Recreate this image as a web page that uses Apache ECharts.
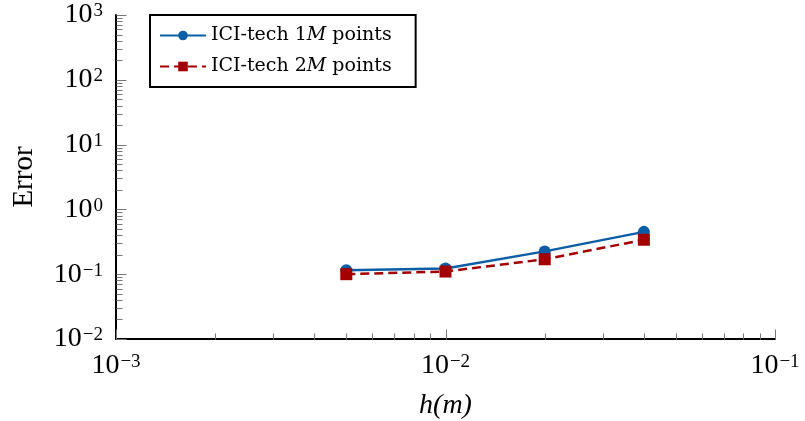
<!DOCTYPE html>
<html>
<head>
<meta charset="utf-8">
<script src="https://cdn.jsdelivr.net/npm/echarts@6/dist/echarts.min.js"></script>
<style>
  html, body { margin: 0; padding: 0; background: #fff; }
  #chart { width: 805px; height: 421px; }
</style>
</head>
<body>
<div id="chart"></div>
<script>
var hValues = [0.005, 0.01, 0.02, 0.04];
var error1M = [0.115, 0.122, 0.225, 0.45];
var error2M = [0.1, 0.11, 0.17, 0.34];
var seriesNames = ['ICI-tech 1M points', 'ICI-tech 2M points'];
var xDecades = [-3, -2, -1];
var yDecades = [-2, -1, 0, 1, 2, 3];

var serif = '"Liberation Serif", "DejaVu Serif", serif';
var legendFont = '"DejaVu Serif", serif';

// tick marks 1..9 x 10^e, inside the axis
function logTicks(decades) {
    var out = [];
    var last = decades[decades.length - 1];
    decades.forEach(function (e) {
        for (var k = 1; k <= 9; k++) {
            if (e === last && k > 1) break;
            out.push([k * Math.pow(10, e), k === 1 ? 1 : 0]);
        }
    });
    return out;
}

function pow10Label(v) {
    var e = Math.round(Math.log10(v));
    var s = e < 0 ? '\u2212' + (-e) : '' + e;
    return '{b|10}{s|' + s + '}';
}

var labelRich = {
    b: { fontFamily: serif, fontSize: 28, color: '#000', lineHeight: 28 },
    s: { fontFamily: serif, fontSize: 19, color: '#000', lineHeight: 19, verticalAlign: 'top', padding: [1, 0, 0, 1] }
};

var xMin = 0.001, xMax = 0.1, yMin = 0.01, yMax = 1000;

function tickRender(horizontal) {
    return function (params, api) {
        var p = api.coord([api.value(0), api.value(1)]);
        var len = api.value(2) ? 10 : 6;
        var x = Math.round(p[0]) + 0.5, y = Math.round(p[1]) + 0.5;
        var shape = horizontal
            ? { x1: x, y1: y, x2: x, y2: y - len }
            : { x1: x, y1: y, x2: x + len, y2: y };
        return { type: 'line', shape: shape, style: { stroke: '#777', lineWidth: 1 } };
    };
}

var chart = echarts.init(document.getElementById('chart'));
chart.setOption({
    animation: false,
    grid: { left: 116, right: 30, top: 15, bottom: 82, containLabel: false, outerBoundsMode: 'none' },
    legend: {
        left: 150,
        top: 15,
        orient: 'vertical',
        backgroundColor: '#fff',
        borderColor: '#000',
        borderWidth: 2,
        borderRadius: 0,
        padding: [11, 24, 11, 9],
        itemGap: 12,
        itemWidth: 46,
        itemHeight: 12,
        formatter: function (name) {
            return name.replace('1M', '1{i|M}').replace('2M', '2{i|M}');
        },
        textStyle: {
            fontFamily: legendFont,
            fontSize: 19,
            lineHeight: 18,
            color: '#000',
            rich: { i: { fontFamily: legendFont, fontStyle: 'italic', fontSize: 19, lineHeight: 18, color: '#000' } }
        },
        data: seriesNames
    },
    xAxis: {
        type: 'log',
        min: xMin,
        max: xMax,
        logBase: 10,
        name: 'h(m)',
        nameLocation: 'middle',
        nameGap: 53,
        nameTextStyle: { fontFamily: serif, fontStyle: 'italic', fontSize: 28, color: '#000' },
        axisLine: { lineStyle: { color: '#000', width: 2 } },
        axisTick: { show: false },
        minorTick: { show: false },
        splitLine: { show: false },
        axisLabel: { formatter: pow10Label, rich: labelRich, margin: 13 }
    },
    yAxis: {
        type: 'log',
        min: yMin,
        max: yMax,
        logBase: 10,
        name: 'Error',
        nameLocation: 'middle',
        nameGap: 77,
        nameTextStyle: { fontFamily: serif, fontSize: 29, color: '#000' },
        axisLine: { lineStyle: { color: '#000', width: 2 } },
        axisTick: { show: false },
        minorTick: { show: false },
        splitLine: { show: false },
        axisLabel: { formatter: pow10Label, rich: labelRich, margin: 13 }
    },
    series: [
        {
            type: 'custom',
            silent: true,
            renderItem: tickRender(true),
            data: logTicks(xDecades).map(function (t) { return [t[0], yMin, t[1]]; }),
            z: 1
        },
        {
            type: 'custom',
            silent: true,
            renderItem: tickRender(false),
            data: logTicks(yDecades).map(function (t) { return [xMin, t[0], t[1]]; }),
            z: 1
        },
        {
            name: seriesNames[0],
            type: 'line',
            data: hValues.map(function (h, i) { return [h, error1M[i]]; }),
            symbol: 'circle',
            symbolSize: 12,
            itemStyle: { color: '#0b5ea6' },
            lineStyle: { color: '#0b5ea6', width: 2.5 },
            z: 3
        },
        {
            name: seriesNames[1],
            type: 'line',
            data: hValues.map(function (h, i) { return [h, error2M[i]]; }),
            symbol: 'rect',
            symbolSize: 12,
            itemStyle: { color: '#a30000' },
            lineStyle: { color: '#a30000', width: 2.5, type: [9, 5] },
            z: 4
        }
    ]
});
</script>
</body>
</html>
